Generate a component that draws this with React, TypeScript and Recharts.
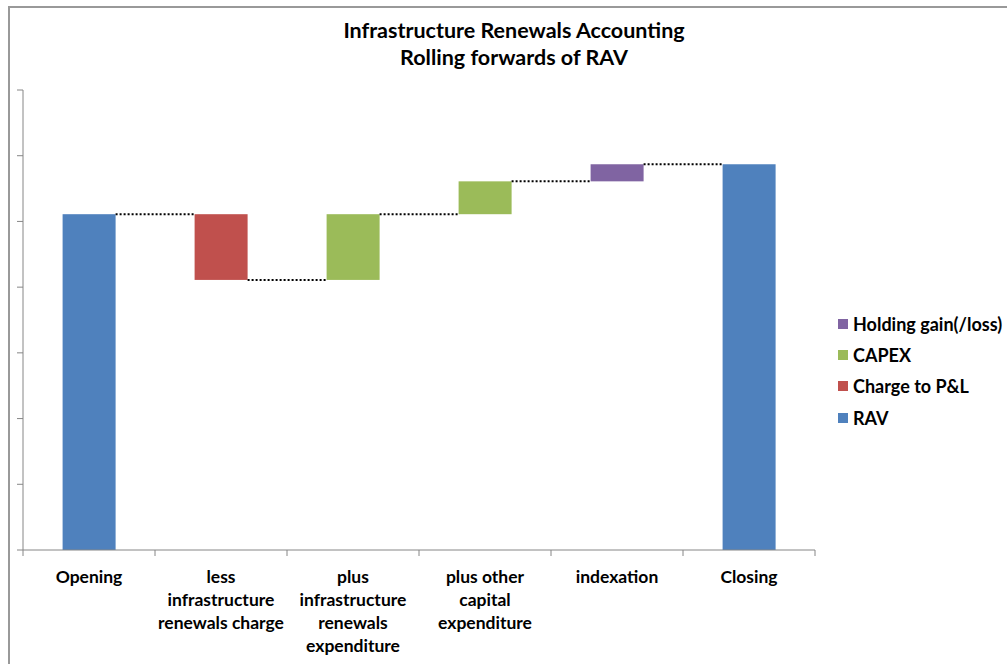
import React from "react";
import { BarChart, Bar, XAxis, YAxis } from "recharts";

const categories = [
  "Opening",
  "less\ninfrastructure\nrenewals charge",
  "plus\ninfrastructure\nrenewals\nexpenditure",
  "plus other\ncapital\nexpenditure",
  "indexation",
  "Closing",
];
const ravValues = [5.11, 0, 0, 0, 0, 5.87];
const chargeValues = [0, 1.0, 0, 0, 0, 0];
const capexValues = [0, 0, 1.0, 0.5, 0, 0];
const holdingValues = [0, 0, 0, 0, 0.26, 0];
const yTicks = [0, 1, 2, 3, 4, 5, 6, 7];

const SERIES = [
  { key: "holding", name: "Holding gain(/loss)", color: "#8064A2" },
  { key: "capex", name: "CAPEX", color: "#9BBB59" },
  { key: "charge", name: "Charge to P&L", color: "#C0504D" },
  { key: "rav", name: "RAV", color: "#4F81BD" },
];

const FONT = "Lato, 'Open Sans', sans-serif";
const AXIS = "#868686";
const TICK_SIZE = 6;
const TICK_MARGIN = 2;

// running total gives the invisible base under each floating bar
let total = 0;
const data = categories.map((name, i) => {
  let base = 0;
  if (ravValues[i] > 0) {
    total = ravValues[i];
  } else if (chargeValues[i] > 0) {
    total -= chargeValues[i];
    base = total;
  } else {
    base = total;
    total += capexValues[i] + holdingValues[i];
  }
  return {
    name,
    base,
    rav: ravValues[i],
    charge: chargeValues[i],
    capex: capexValues[i],
    holding: holdingValues[i],
    fall: chargeValues[i] > 0,
    next: i < categories.length - 1,
  };
});

// bar + dotted connector running to the next bar
const Segment = (props: any) => {
  const { x, y, width, height, fill, payload } = props;
  if (!height || height <= 0) return null;
  const level = payload.fall ? y + height : y;
  return (
    <g>
      <rect x={x} y={y} width={width} height={height} fill={fill} />
      {payload.next && (
        <line
          x1={x + width}
          x2={x + width * 2.5}
          y1={level}
          y2={level}
          stroke="#000"
          strokeWidth={2}
          strokeDasharray="2 2"
        />
      )}
    </g>
  );
};

const NoLabel = () => <g />;

// wrapped label plus Excel-style tick marks between categories
const CategoryTick = (props: any) => {
  const { x, y, payload, index, width, visibleTicksCount } = props;
  const lines = String(payload.value).split("\n");
  const band = width / visibleTicksCount;
  const axisY = y - TICK_SIZE - TICK_MARGIN;
  const marks = [x - band / 2];
  if (index === visibleTicksCount - 1) marks.push(x + band / 2);
  return (
    <g>
      {marks.map((mx, i) => (
        <line key={i} x1={mx} x2={mx} y1={axisY} y2={axisY + TICK_SIZE} stroke={AXIS} />
      ))}
      <text
        x={x}
        y={y}
        textAnchor="middle"
        fill="#000"
        style={{ fontFamily: FONT, fontWeight: 700, fontSize: 17.5 }}
      >
        {lines.map((l, i) => (
          <tspan key={i} x={x} dy={i === 0 ? 25 : 23}>
            {l}
          </tspan>
        ))}
      </text>
    </g>
  );
};

export default function App() {
  return (
    <div
      style={{
        position: "absolute",
        left: 0,
        top: 0,
        width: 1007,
        height: 664,
        overflow: "hidden",
        background: "#fff",
        fontFamily: FONT,
      }}
    >
      <div
        style={{
          position: "absolute",
          left: 8,
          top: 6,
          width: 1100,
          height: 700,
          borderLeft: "2px solid #999",
          borderTop: "2px solid #999",
        }}
      />
      <div
        style={{
          position: "absolute",
          left: 264,
          top: 17,
          width: 500,
          textAlign: "center",
          fontWeight: 700,
          fontSize: 21.5,
          lineHeight: "27px",
          color: "#000",
        }}
      >
        Infrastructure Renewals Accounting
        <br />
        Rolling forwards of RAV
      </div>
      <div style={{ position: "absolute", left: 0, top: 0 }}>
        <BarChart
          width={1007}
          height={664}
          data={data}
          barCategoryGap="30%"
          margin={{ top: 90, right: 192, bottom: 14, left: 3 }}
        >
          <XAxis
            dataKey="name"
            interval={0}
            height={100}
            axisLine={{ stroke: AXIS }}
            tickLine={false}
            tickSize={TICK_SIZE}
            tickMargin={TICK_MARGIN}
            tick={<CategoryTick />}
          />
          <YAxis
            width={20}
            domain={[0, 7]}
            ticks={yTicks}
            tick={<NoLabel />}
            axisLine={{ stroke: AXIS }}
            tickLine={{ stroke: AXIS }}
            tickSize={TICK_SIZE}
          />
          <Bar dataKey="base" stackId="w" fill="transparent" isAnimationActive={false} legendType="none" />
          {SERIES.slice().reverse().map((s) => (
            <Bar
              key={s.key}
              dataKey={s.key}
              name={s.name}
              stackId="w"
              fill={s.color}
              shape={<Segment />}
              isAnimationActive={false}
            />
          ))}
        </BarChart>
      </div>
      <div style={{ position: "absolute", left: 838, top: 308 }}>
        {SERIES.map((s) => (
          <div
            key={s.key}
            style={{ display: "flex", alignItems: "center", height: 31.3 }}
          >
            <span style={{ width: 10, height: 10, background: s.color, marginRight: 5 }} />
            <span style={{ fontWeight: 700, fontSize: 18, color: "#000" }}>{s.name}</span>
          </div>
        ))}
      </div>
    </div>
  );
}
